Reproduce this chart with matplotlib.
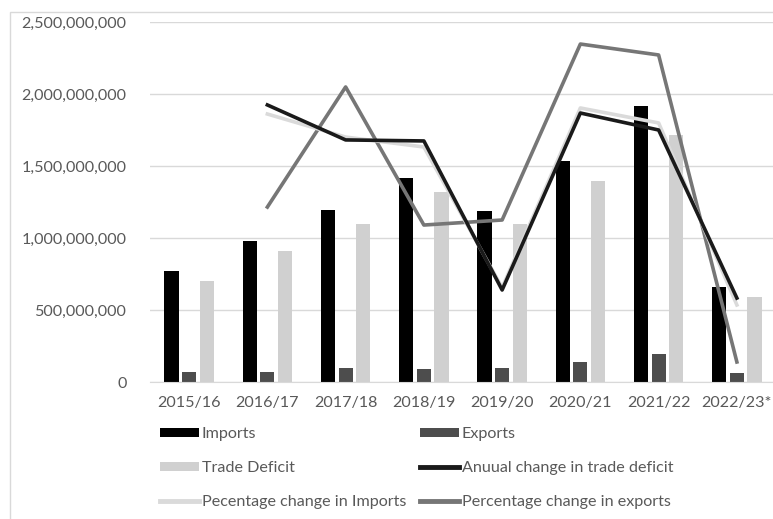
import numpy as np
import matplotlib.pyplot as plt
from matplotlib.patches import Rectangle
from matplotlib.ticker import FuncFormatter

# values
years = ['2015/16', '2016/17', '2017/18', '2018/19', '2019/20', '2020/21', '2021/22', '2022/23*']
imports = [771e6, 979e6, 1194e6, 1417e6, 1188e6, 1535e6, 1917e6, 660e6]
exports = [69e6, 69e6, 97e6, 90e6, 97e6, 139e6, 194e6, 63e6]
trade_deficit = [701e6, 910e6, 1097e6, 1319e6, 1097e6, 1396e6, 1715e6, 590e6]

# line series (drawn on the same scale as in the picture, first year empty)
annual_change = [np.nan, 1924e6, 1681e6, 1674e6, 639e6, 1868e6, 1750e6, 583e6]
pct_imports = [np.nan, 1861e6, 1701e6, 1632e6, 655e6, 1903e6, 1799e6, 535e6]
pct_exports = [np.nan, 1215e6, 2049e6, 1090e6, 1125e6, 2347e6, 2271e6, 139e6]

plt.rcParams['font.family'] = ['Lato', 'DejaVu Sans']
txt = '#595959'
fs = 11.6

fig = plt.figure(figsize=(7.73, 5.19), dpi=100)
fig.patches.append(Rectangle((10 / 773, -0.1), 1.2, 1 - 12 / 519 + 0.1,
                             transform=fig.transFigure, fill=False,
                             edgecolor='#d9d9d9', linewidth=1))
ax = fig.add_axes([150 / 773, 1 - 382 / 519, 626 / 773, 360 / 519])

x = np.arange(len(years))
w = 0.18
off = 0.225
b1 = ax.bar(x - off, imports, w, color='#000000', label='Imports', zorder=2)
b2 = ax.bar(x, exports, w, color='#4d4d4d', label='Exports', zorder=2)
b3 = ax.bar(x + off, trade_deficit, w, color='#d0d0d0', label='Trade Deficit', zorder=2)

l3, = ax.plot(x, pct_exports, color='#767676', linewidth=2.6,
              label='Percentage change in exports', zorder=3)
l2, = ax.plot(x, pct_imports, color='#dadada', linewidth=2.6,
              label='Pecentage change in Imports', zorder=4)
l1, = ax.plot(x, annual_change, color='#1a1a1a', linewidth=2.6,
              label='Anuual change in trade deficit', zorder=5)

ax.set_xlim(-0.5, len(years) - 0.5)
ax.set_ylim(0, 2.5e9)
ax.set_yticks(np.arange(0, 2.5e9 + 1, 5e8))
ax.yaxis.set_major_formatter(FuncFormatter(lambda v, p: f'{v:,.0f}'))
ax.set_xticks(x)
ax.set_xticklabels(years)
ax.tick_params(length=0, colors=txt, labelsize=fs)
ax.tick_params(axis='y', pad=17)
ax.tick_params(axis='x', pad=10)
ax.grid(axis='y', color='#d9d9d9', linewidth=1, zorder=0)
ax.set_axisbelow(True)
for s in ['top', 'right', 'left']:
    ax.spines[s].set_visible(False)
ax.spines['bottom'].set_color('#d9d9d9')

# legend as two columns placed like the original
legend_cols = [([b1, b3, l2], 160), ([b2, l1, l3], 420)]
for hs, left in legend_cols:
    leg = fig.legend(hs, [h.get_label() for h in hs], loc='upper left',
                     bbox_to_anchor=(left / 773, 1 - 427 / 519), frameon=False,
                     fontsize=fs, handlelength=2.4, handleheight=0.5,
                     handletextpad=0.2, labelspacing=1.25, borderpad=0,
                     borderaxespad=0, labelcolor=txt)
    for h in leg.legend_handles:
        if not isinstance(h, Rectangle):
            h.set_linewidth(3.5)

plt.savefig('out.png', dpi=100)
plt.close()
